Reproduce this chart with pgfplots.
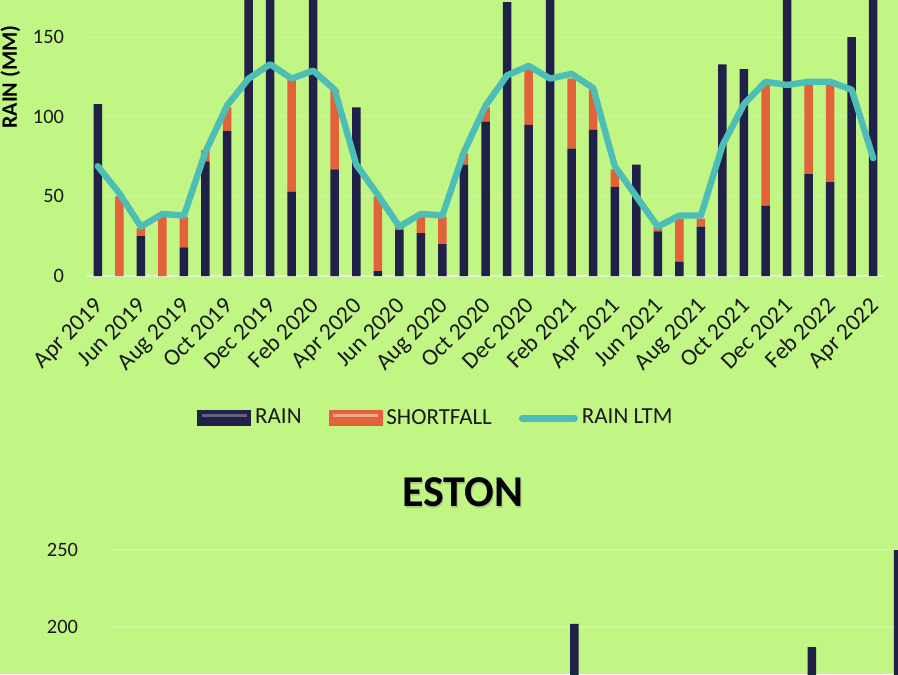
\documentclass[border=0pt]{standalone}
\usepackage{pgfplots}
\pgfplotsset{compat=1.18}
\usepackage{fontspec}
\setmainfont{Carlito}
\definecolor{bgc}{RGB}{193,246,133}
\definecolor{rainc}{RGB}{32,32,72}
\definecolor{shortc}{RGB}{226,98,58}
\definecolor{ltmc}{RGB}{76,190,182}
\definecolor{gridc}{RGB}{204,248,156}
\definecolor{basec}{RGB}{228,242,214}
\definecolor{textc}{RGB}{25,25,25}
\begin{document}
\begin{tikzpicture}
\useasboundingbox (0,0) rectangle (449pt,-337pt);
\fill[bgc] (0,0) rectangle (449pt,-337pt);
\clip (0,0) rectangle (449pt,-337pt);
\pgfplotsset{
  common/.style={
    scale only axis,
    xmin=-0.5, xmax=36.5, ymin=0, ymax=250,
    major tick length=0pt,
    tick label style={font=\fontsize{10.2}{12}\selectfont, text=textc},
    /pgf/number format/assume math mode=true,
  }
}
% ---- top chart: stacked bars ----
\begin{axis}[common,
  at={(43.5pt,-138pt)}, anchor=south west,
  width=398.5pt, height=199pt,
  ybar stacked, bar width=4.25pt,
  xtick={0,2,...,36},
  xticklabels={Apr 2019,Jun 2019,Aug 2019,Oct 2019,Dec 2019,Feb 2020,Apr 2020,Jun 2020,Aug 2020,Oct 2020,Dec 2020,Feb 2021,Apr 2021,Jun 2021,Aug 2021,Oct 2021,Dec 2021,Feb 2022,Apr 2022},
  xticklabel style={font=\fontsize{11.8}{13}\selectfont, inner sep=0pt, xshift=3.4pt, yshift=-15.5pt, rotate=45, anchor=base east},
  ytick={0,50,...,250},
  yticklabel style={xshift=-8pt},
  ymajorgrids, grid style={gridc, line width=0.6pt},
  axis x line*=bottom, axis y line*=left,
  x axis line style={basec, line width=1pt},
  y axis line style={draw=none},
  ylabel={RAIN (MM)},
  ylabel style={font=\bfseries\fontsize{11}{13}\selectfont, text=black, at={(axis description cs:-0.096,0.5)}, anchor=center},
]
\addplot[fill=rainc, draw=none] coordinates {
(0,108) (1,0) (2,25) (3,0) (4,18) (5,72) (6,91) (7,195) (8,215) (9,53) (10,190) (11,67)
(12,106) (13,3) (14,29) (15,27) (16,20) (17,70) (18,97) (19,172) (20,95) (21,200) (22,80) (23,92)
(24,56) (25,70) (26,28) (27,9) (28,31) (29,133) (30,130) (31,44) (32,185) (33,64) (34,59) (35,150) (36,180)};
\addplot[fill=shortc, draw=none] coordinates {
(0,0) (1,50) (2,5) (3,37) (4,19) (5,7) (6,15) (7,0) (8,0) (9,70) (10,0) (11,50)
(12,0) (13,47) (14,2) (15,10) (16,17) (17,7) (18,9) (19,0) (20,35) (21,0) (22,44) (23,25)
(24,11) (25,0) (26,3) (27,27) (28,5) (29,0) (30,0) (31,76) (32,0) (33,57) (34,61) (35,0) (36,0)};
\end{axis}
% ---- top chart: long-term mean line and legend ----
\begin{axis}[common,
  at={(43.5pt,-138pt)}, anchor=south west,
  width=398.5pt, height=199pt,
  hide axis,
  legend style={at={(axis description cs:0.439,-0.357)}, anchor=center, draw=none, fill=none,
    font=\fontsize{11.5}{13}\selectfont, text=textc,
    /tikz/every even column/.append style={column sep=11.5pt}},
  legend columns=3,
]
\addlegendimage{legend image code/.code={
  \fill[rainc] (0pt,-3.6pt) rectangle (26.5pt,3.6pt);
  \draw[rainc!70!white, line width=1.8pt] (2pt,1.3pt) -- (24.5pt,1.3pt);}}
\addlegendentry{RAIN}
\addlegendimage{legend image code/.code={
  \fill[shortc] (0pt,-3.6pt) rectangle (26.5pt,3.6pt);
  \draw[shortc!55!white, line width=1.8pt] (2pt,1.3pt) -- (24.5pt,1.3pt);}}
\addlegendentry{SHORTFALL}
\addplot[ltmc, line width=3.2pt, line join=round, line cap=round, mark=none,
  legend image code/.code={\draw[ltmc, line width=3.5pt, line cap=round] (1pt,0pt) -- (27pt,0pt);}]
  coordinates {
(0,69) (1,52) (2,31) (3,39) (4,38) (5,78) (6,107) (7,124) (8,133) (9,124) (10,129) (11,117)
(12,70) (13,51) (14,31) (15,39) (16,38) (17,78) (18,107) (19,126) (20,132) (21,124) (22,127) (23,118)
(24,69) (25,50) (26,31) (27,38) (28,38) (29,82) (30,108) (31,122) (32,120) (33,122) (34,122) (35,117) (36,74)};
\addlegendentry{RAIN LTM}
\end{axis}
% ---- second chart (ESTON), only its top visible ----
\node[font=\bfseries\fontsize{22}{25}\selectfont, text=black!50, opacity=0.35] at (231.9pt,-247.3pt) {ESTON};
\node[font=\bfseries\fontsize{22}{25}\selectfont, text=black] at (231.3pt,-246pt) {ESTON};
\begin{axis}[common,
  at={(55pt,-467.5pt)}, anchor=south west,
  width=399.5pt, height=192.5pt,
  ybar, bar width=4.25pt,
  xtick=\empty,
  ytick={0,50,...,250},
  yticklabel style={xshift=-12.5pt},
  ymajorgrids, grid style={gridc, line width=0.6pt},
  axis x line*=bottom, axis y line*=left,
  x axis line style={basec, line width=1pt},
  y axis line style={draw=none},
]
\addplot[fill=rainc, draw=none] coordinates {(21,202) (32,187) (36,270)};
\end{axis}
\end{tikzpicture}
\end{document}
